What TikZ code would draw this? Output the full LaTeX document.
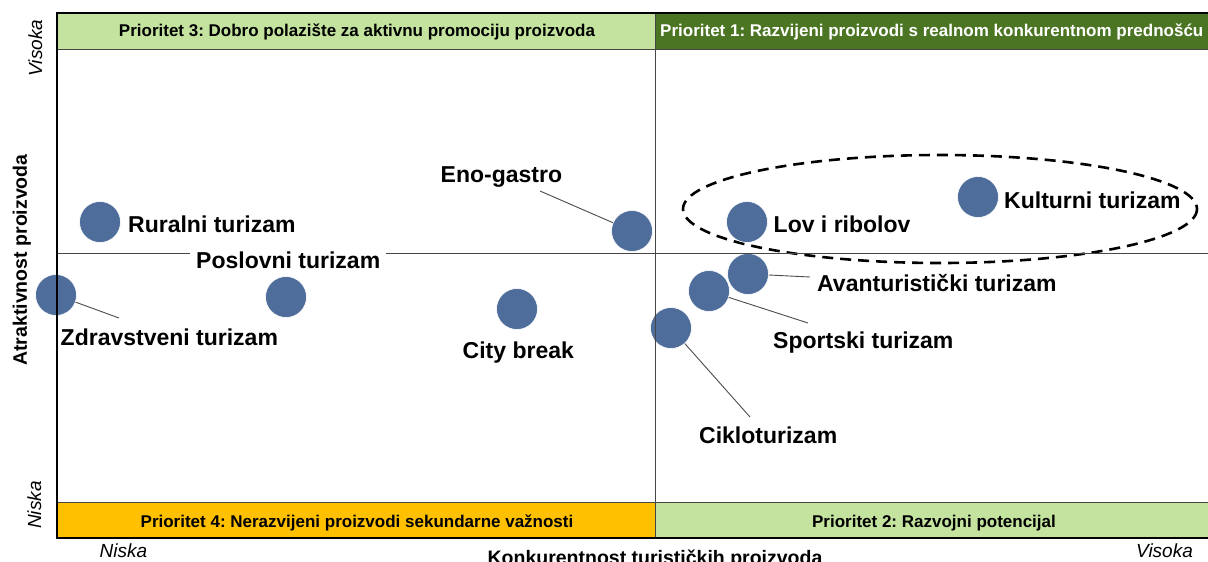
\documentclass[tikz,border=0pt]{standalone}
\usepackage{fontspec}
\setmainfont{Liberation Sans}
\frenchspacing
\definecolor{circ}{RGB}{78,109,155}
\definecolor{lgreen}{RGB}{195,227,158}
\definecolor{dgreen}{RGB}{75,117,35}
\definecolor{orng}{RGB}{255,192,0}
\definecolor{gline}{RGB}{70,70,70}
\definecolor{cline}{RGB}{75,75,75}
\tikzset{
  dot/.style={circle,fill=circ,draw=white,line width=0.6pt,minimum size=41pt,inner sep=0pt},
  lbl/.style={font=\fontsize{23}{27}\selectfont\bfseries,inner sep=0pt,anchor=base west},
  bantext/.style={font=\fontsize{17}{20}\selectfont\bfseries,inner sep=0pt,anchor=base},
  axlbl/.style={font=\fontsize{19.5}{23}\selectfont\bfseries,inner sep=0pt,anchor=base},
  itlbl/.style={font=\fontsize{19}{23}\selectfont\itshape,inner sep=0pt,anchor=base},
  conn/.style={draw=cline,line width=0.9pt},
  midline/.style={draw=gline,line width=1.2pt},
}
\begin{document}
\begin{tikzpicture}[x=1pt,y=-1pt]
\useasboundingbox (0,0) rectangle (1208,562);
\clip (0,0) rectangle (1208,562);
% banners
\fill[lgreen] (57,13) rectangle (655.3,49);
\fill[dgreen] (655.3,13) rectangle (1213,49);
\fill[orng] (57,502) rectangle (655.3,538);
\fill[lgreen] (655.3,502) rectangle (1213,538);
\draw[gline,line width=0.8pt] (57,49) -- (1213,49);
\draw[gline,line width=0.8pt] (57,502) -- (1213,502);
% ellipse
\draw[black,line width=2.6pt,dash pattern=on 11pt off 7pt] (940,209) ellipse [x radius=257, y radius=54];
% circles
\node[dot] (ruralni) at (100,222) {};
\node[dot] (zdrav) at (56,295) {};
\node[dot] (poslovni) at (286,297) {};
\node[dot] (eno) at (632,231) {};
\node[dot] (city) at (517,309) {};
\node[dot] (lov) at (747,222) {};
\node[dot] (kult) at (978,197) {};
\node[dot] (avan) at (748,274) {};
\node[dot] (sport) at (709,291) {};
\node[dot] (ciklo) at (671,328) {};
% mid lines and frame
\draw[midline] (57,253.3) -- (1213,253.3);
\draw[midline] (655.3,13) -- (655.3,538);
\draw[black,line width=1.3pt] (57,13) rectangle (1213,538);
% labels
\node[lbl] (tRur) at (128,232) {Ruralni turizam};
\node[lbl,fill=white,inner xsep=6pt] (tPos) at (190,268.3) {Poslovni turizam};
\node[lbl] (tZdr) at (60.5,345) {Zdravstveni turizam};
\node[lbl] (tEno) at (440.5,182.3) {Eno-gastro};
\node[lbl] (tCity) at (462.5,358.3) {City break};
\node[lbl] (tLov) at (773.5,232) {Lov i ribolov};
\node[lbl] (tKult) at (1004,208.3) {Kulturni turizam};
\node[lbl] (tAvan) at (817,291.7) {Avanturistički turizam};
\node[lbl] (tSport) at (773,348.3) {Sportski turizam};
\node[lbl] (tCik) at (699,443.3) {Cikloturizam};
% connectors
\coordinate (eEno) at (540,191);
\coordinate (eZdr) at (119,318);
\coordinate (eAvan) at (810,277);
\coordinate (eSport) at (808,323);
\coordinate (eCik) at (750,417);
\draw[conn] (eno) -- (eEno);
\draw[conn] (zdrav) -- (eZdr);
\draw[conn] (avan) -- (eAvan);
\draw[conn] (sport) -- (eSport);
\draw[conn] (ciklo) -- (eCik);
% banner texts
\node[bantext] (b3) at (357,36.5) {Prioritet 3: Dobro polazište za aktivnu promociju proizvoda};
\node[bantext,anchor=base west,text=white] (b1) at (660,36.5) {Prioritet 1: Razvijeni proizvodi s realnom konkurentnom prednošću};
\node[bantext] (b4) at (357,527) {Prioritet 4: Nerazvijeni proizvodi sekundarne važnosti};
\node[bantext] (b2) at (934,527) {Prioritet 2: Razvojni potencijal};
% axis labels
\node[axlbl] (xax) at (655,564) {Konkurentnost turističkih proizvoda};
\node[axlbl,rotate=90] (yax) at (27,260) {Atraktivnost proizvoda};
\node[itlbl] (xlo) at (123.5,557) {Niska};
\node[itlbl] (xhi) at (1164.5,557) {Visoka};
\node[itlbl,rotate=90] (yhi) at (42,48) {Visoka};
\node[itlbl,rotate=90] (ylo) at (41,505) {Niska};
\end{tikzpicture}
\end{document}
